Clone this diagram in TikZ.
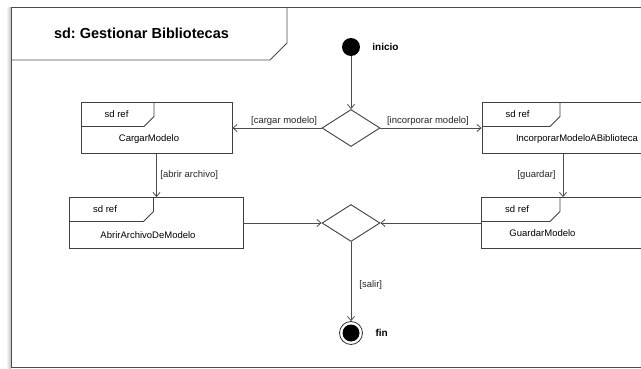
\documentclass[tikz,border=0pt]{standalone}
\usepackage{fontspec}
\setmainfont{Liberation Sans}
\frenchspacing
\usetikzlibrary{arrows.meta, positioning, shapes.geometric}

\begin{document}
\begin{tikzpicture}[
    x=1pt, y=-1pt,
    diagframe/.style={
        draw=black!70,
        line width=0.9pt,
    },
    refbox/.style={
        rectangle,
        draw=black!75,
        line width=0.9pt,
        minimum height=51pt,
        inner sep=0pt,
        path picture={
            \draw[black!75, line width=0.9pt]
                ([xshift=#1]path picture bounding box.north west)
                -- ++(0pt,-14pt) -- ++(-10pt,-10pt)
                -| (path picture bounding box.north west);
        },
    },
    decision/.style={
        diamond,
        draw=black!75,
        line width=0.9pt,
        minimum width=58pt,
        minimum height=37pt,
        inner sep=0pt,
    },
    startdot/.style={
        circle,
        fill=black,
        minimum size=18pt,
        inner sep=0pt,
    },
    enddot/.style={
        circle,
        draw=black!80,
        line width=0.8pt,
        minimum size=23pt,
        inner sep=0pt,
        path picture={
            \fill[black] (path picture bounding box.center) circle (8.5pt);
        },
    },
    flow/.style={
        draw=black!70,
        line width=0.8pt,
        -{Straight Barb[length=4pt,width=7pt]},
    },
    guard/.style={
        font=\fontsize{9.5}{11}\selectfont,
        text=black!85,
        inner sep=2pt,
    },
    sdtag/.style={
        font=\fontsize{9.5}{11}\selectfont,
        inner sep=0pt,
    },
    refname/.style={
        font=\fontsize{9.5}{11}\selectfont,
        inner sep=0pt,
    },
    endlabel/.style={
        font=\bfseries\fontsize{10}{12}\selectfont,
        inner sep=0pt,
    },
]
    % Frame and title
    \useasboundingbox (0,0) rectangle (641,369);
    \clip (0,0) rectangle (641,369);
    \shade[left color=white, right color=black!25] (6,8) rectangle (11,369);
    \draw[diagframe] (11.5,7) rectangle (660,367);
    \draw[diagframe] (11.5,60) -- (270,60) -- (287,43) -- (287,7);
    \node[font=\bfseries\fontsize{14.5}{17}\selectfont] (titulo) at (141.5,33) {sd: Gestionar Bibliotecas};

    % Start and end
    \node[startdot] (inicio) at (351,47) {};
    \node[endlabel, right=12pt of inicio] (inicio-lbl) {inicio};
    \node[enddot] (fin) at (351,333) {};
    \node[endlabel, right=12.5pt of fin] (fin-lbl) {fin};

    % Decisions
    \node[decision] (elegir) at (351,128) {};
    \node[decision] (unir) at (351,223) {};

    % Referenced interactions
    \node[refbox=73pt, minimum width=151pt] (cargar) at (156.5,128) {};
    \node[refbox=84pt, minimum width=173.5pt] (abrir) at (156.25,223) {};
    \node[refbox=78pt, minimum width=162pt] (incorporar) at (563,128) {};
    \node[refbox=78.5pt, minimum width=163pt] (guardar) at (563,223) {};

    \foreach \b in {cargar, abrir, incorporar, guardar}
        \node[sdtag] (\b-sd) at ([xshift=36pt,yshift=-12.5pt]\b.north west) {sd ref};

    \node[refname] (cargar-name) at (149,139) {CargarModelo};
    \node[refname] (abrir-name) at (148,235) {AbrirArchivoDeModelo};
    \node[refname] (incorporar-name) at (577,139) {IncorporarModeloABiblioteca};
    \node[refname] (guardar-name) at (542.5,233.5) {GuardarModelo};

    % Flows
    \draw[flow] (inicio) -- (elegir);
    \draw[flow] (elegir) -- node[guard, above, pos=0.42] (g-cargar) {[cargar modelo]} (cargar);
    \draw[flow] (elegir) -- node[guard, above, pos=0.47] (g-incorporar) {[incorporar modelo]} (incorporar);
    \draw[flow] (cargar.south) -- node[guard, right, xshift=1.5pt] (g-abrir) {[abrir archivo]} (cargar.south |- abrir.north);
    \draw[flow] (incorporar) -- node[guard, left, xshift=-5pt] (g-guardar) {[guardar]} (guardar);
    \draw[flow] (abrir) -- (unir);
    \draw[flow] (guardar) -- (unir);
    \draw[flow] (unir) -- node[guard, right, pos=0.54, xshift=6pt] (g-salir) {[salir]} (fin);
\end{tikzpicture}
\end{document}
